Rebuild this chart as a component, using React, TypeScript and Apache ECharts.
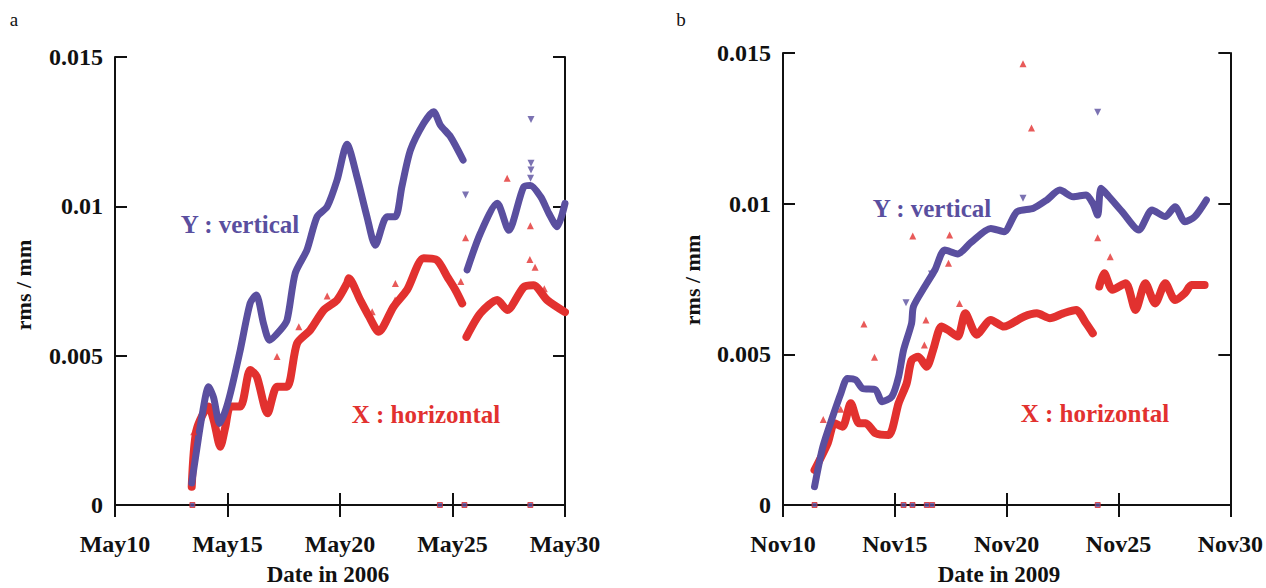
import React, { useEffect, useRef } from "react";
import * as echarts from "echarts";

// ---------- Panel a (May 2006) ----------
const aVertical1: number[][] = [
  [13.41, 0.00074], [13.62, 0.0018], [13.87, 0.003], [14.16, 0.00396], [14.38, 0.0036],
  [14.65, 0.00273], [14.88, 0.0031], [15.13, 0.00375], [15.57, 0.0052], [16.01, 0.00676],
  [16.28, 0.00703], [16.6, 0.00608], [16.87, 0.00552], [17.35, 0.00586], [17.65, 0.0062],
  [18.01, 0.00776], [18.53, 0.00854], [18.98, 0.00965], [19.43, 0.00999], [19.87, 0.01088],
  [20.31, 0.01208], [20.75, 0.011], [21.2, 0.00965], [21.57, 0.0087], [22.09, 0.00965],
  [22.46, 0.00965], [22.75, 0.01066], [23.13, 0.01188], [23.72, 0.01278], [24.16, 0.01317],
  [24.46, 0.01272], [24.91, 0.01233], [25.47, 0.01155],
];
const aVertical2: number[][] = [
  [25.65, 0.00787], [26.24, 0.0091], [26.99, 0.0101], [27.5, 0.0092], [28.17, 0.01066],
  [28.46, 0.0107], [28.92, 0.01032], [29.28, 0.00977], [29.65, 0.00932], [30.0, 0.0101],
];
const aHorizontal1: number[][] = [
  [13.41, 0.00061], [13.62, 0.0025], [14.16, 0.0033], [14.4, 0.0028], [14.68, 0.00195],
  [14.9, 0.0026], [15.13, 0.0033], [15.57, 0.0033], [16.01, 0.00452], [16.3, 0.0043],
  [16.78, 0.00307], [17.2, 0.00396], [17.65, 0.00396], [18.09, 0.00541], [18.68, 0.00586],
  [19.28, 0.00653], [19.87, 0.00686], [20.31, 0.00742], [20.39, 0.00759], [20.9, 0.00686],
  [21.3, 0.0063], [21.72, 0.0058], [22.38, 0.00664], [22.98, 0.0072], [23.72, 0.00826],
  [24.31, 0.0082], [24.77, 0.00764], [25.13, 0.0072], [25.43, 0.00675],
];
const aHorizontal2: number[][] = [
  [25.62, 0.00563], [26.24, 0.00642], [26.99, 0.00686], [27.43, 0.00653], [28.17, 0.0073],
  [28.6, 0.00736], [29.21, 0.00686], [30.0, 0.00646],
];
const aHorizontalOutliers: number[][] = [
  [27.43, 0.01094], [25.58, 0.00895], [28.46, 0.00935], [28.44, 0.00822], [28.67, 0.00796],
  [29.08, 0.00724], [22.46, 0.00742], [22.45, 0.00686], [25.37, 0.00748], [17.2, 0.00497],
  [19.43, 0.007], [18.17, 0.00597], [13.5, 0.00245], [21.43, 0.00647],
];
const aVerticalOutliers: number[][] = [
  [25.58, 0.01038], [28.49, 0.01291], [28.49, 0.01144], [28.49, 0.01122], [28.47, 0.01094],
];
const aZeroDays: number[] = [13.44, 24.44, 25.53, 28.46];

// ---------- Panel b (Nov 2009) ----------
const bVertical: number[][] = [
  [11.41, 0.00061], [11.78, 0.00193], [12.22, 0.00293], [12.59, 0.00371], [12.88, 0.0042],
  [13.25, 0.00415], [13.55, 0.00387], [14.14, 0.00382], [14.43, 0.00343], [14.87, 0.0036],
  [15.17, 0.00426], [15.39, 0.00514], [15.75, 0.00603], [15.83, 0.00658], [16.34, 0.00725],
  [16.79, 0.0078], [17.23, 0.00846], [17.81, 0.00833], [18.4, 0.00871], [19.29, 0.00918],
  [19.88, 0.00907], [20.46, 0.00973], [21.2, 0.00985], [21.79, 0.01012], [22.38, 0.01045],
  [22.97, 0.01023], [23.55, 0.01029], [23.85, 0.01001], [24.07, 0.00962], [24.22, 0.01051],
  [24.58, 0.01023], [25.17, 0.00973], [25.91, 0.00913], [26.5, 0.00979], [27.09, 0.00957],
  [27.53, 0.0099], [27.97, 0.0094], [28.41, 0.00957], [28.93, 0.01012],
];
const bHorizontal1: number[][] = [
  [11.41, 0.00116], [12.0, 0.00205], [12.3, 0.00271], [12.66, 0.0026], [13.03, 0.00338],
  [13.4, 0.00271], [13.7, 0.00271], [14.14, 0.00238], [14.72, 0.00232], [15.17, 0.00338],
  [15.53, 0.00404], [15.75, 0.00481], [16.05, 0.00492], [16.42, 0.00459], [16.71, 0.00514],
  [17.08, 0.00592], [17.37, 0.00581], [17.81, 0.00559], [18.15, 0.00636], [18.66, 0.00565],
  [19.29, 0.00614], [19.88, 0.00592], [20.76, 0.00625], [21.35, 0.00636], [21.93, 0.0062],
  [22.53, 0.00636], [23.11, 0.00647], [23.55, 0.00603], [23.85, 0.0057],
];
const bHorizontal2: number[][] = [
  [24.14, 0.00725], [24.36, 0.00769], [24.73, 0.00714], [25.32, 0.00736], [25.76, 0.00647],
  [26.2, 0.00736], [26.64, 0.00669], [27.09, 0.00736], [27.53, 0.0068], [27.97, 0.00703],
  [28.26, 0.0073], [28.85, 0.0073],
];
const bHorizontalOutliers: number[][] = [
  [20.73, 0.01464], [21.11, 0.01251], [24.07, 0.00887], [24.63, 0.00824], [13.62, 0.00601],
  [14.09, 0.0049], [15.8, 0.00893], [17.45, 0.00896], [17.4, 0.00802], [17.89, 0.00669],
  [16.39, 0.00614], [16.32, 0.00531], [11.8, 0.00284], [12.58, 0.00318],
];
const bVerticalOutliers: number[][] = [
  [24.07, 0.01303], [20.73, 0.01018], [15.5, 0.00671], [16.64, 0.00767],
];
const bZeroDays: number[] = [11.41, 15.39, 15.79, 16.43, 16.67, 24.07];

const xTicksA = ["May10", "May15", "May20", "May25", "May30"];
const xTicksB = ["Nov10", "Nov15", "Nov20", "Nov25", "Nov30"];
const yTickLabels = ["0", "0.005", "0.01", "0.015"];

const PURPLE = "#5a4f9f";
const RED = "#e2312f";
const FONT = "'Liberation Serif', 'Times New Roman', serif";

export default function App() {
  const ref = useRef<HTMLDivElement>(null);
  useEffect(() => {
    if (!ref.current) return;
    const chart = echarts.init(ref.current, null, { renderer: "svg" });

    const tickFmtX = (labels: string[]) => (v: number) => labels[Math.round((v - 10) / 5)] ?? "";
    const tickFmtY = (v: number) => yTickLabels[Math.round(v / 0.005)] ?? "";

    const labelStyle = { fontFamily: FONT, fontWeight: "bold" as const, fontSize: 24, color: "#111" };
    const lineStyle = { color: "#111", width: 2 };

    const xAxes: any[] = [];
    const yAxes: any[] = [];
    [xTicksA, xTicksB].forEach((labels, g) => {
      xAxes.push({
        type: "value", gridIndex: g, min: 10, max: 30, interval: 5, position: "bottom",
        axisLine: { show: true, lineStyle }, axisTick: { inside: true, length: 12, lineStyle },
        axisLabel: { ...labelStyle, margin: 27, formatter: tickFmtX(labels) },
        splitLine: { show: false },
      });
      xAxes.push({
        type: "value", gridIndex: g, min: 10, max: 30, interval: 5, position: "top",
        axisLine: { show: true, lineStyle }, axisTick: { inside: true, length: 12, lineStyle },
        axisLabel: { show: false }, splitLine: { show: false },
      });
      yAxes.push({
        type: "value", gridIndex: g, min: 0, max: 0.015, interval: 0.005, position: "left",
        axisLine: { show: true, lineStyle }, axisTick: { inside: true, length: 12, lineStyle },
        axisLabel: { ...labelStyle, margin: 12, formatter: tickFmtY },
        splitLine: { show: false },
      });
      yAxes.push({
        type: "value", gridIndex: g, min: 0, max: 0.015, interval: 0.005, position: "right",
        axisLine: { show: true, lineStyle }, axisTick: { inside: true, length: 12, lineStyle },
        axisLabel: { show: false }, splitLine: { show: false },
      });
    });

    const band = (g: number, data: number[][], color: string, width: number) => ({
      type: "line", xAxisIndex: g * 2, yAxisIndex: g * 2, data, showSymbol: false, symbol: "none",
      smooth: 0.25,
      lineStyle: { color, width, join: "round", cap: "round" }, z: color === PURPLE ? 3 : 2,
    });
    const pts = (g: number, data: number[][], color: string, down: boolean) => ({
      type: "scatter", xAxisIndex: g * 2, yAxisIndex: g * 2, data, symbol: "triangle",
      symbolSize: 7, symbolRotate: down ? 180 : 0, itemStyle: { color }, z: 4,
    });
    const zeros = (g: number, days: number[]) => ({
      type: "scatter", xAxisIndex: g * 2, yAxisIndex: g * 2, data: days.map((d) => [d, 0]),
      symbol: "rect", symbolSize: 5, itemStyle: { color: PURPLE, borderColor: RED, borderWidth: 1 },
      clip: false, z: 5,
    });

    const series: any[] = [
      band(0, aHorizontal1, RED, 8), band(0, aHorizontal2, RED, 8),
      band(0, aVertical1, PURPLE, 7), band(0, aVertical2, PURPLE, 7),
      pts(0, aHorizontalOutliers, RED, false), pts(0, aVerticalOutliers, PURPLE, true),
      zeros(0, aZeroDays),
      band(1, bHorizontal1, RED, 8), band(1, bHorizontal2, RED, 8),
      band(1, bVertical, PURPLE, 7),
      pts(1, bHorizontalOutliers, RED, false), pts(1, bVerticalOutliers, PURPLE, true),
      zeros(1, bZeroDays),
    ];

    const txt = (x: number, y: number, text: string, size: number, color: string, bold = true, rot = 0) => ({
      type: "text", x, y, rotation: rot,
      style: { text, fontFamily: FONT, fontWeight: bold ? "bold" : "normal", fontSize: size, fill: color, align: "center", verticalAlign: "middle" },
    });

    chart.setOption({
      animation: false,
      backgroundColor: "#fff",
      grid: [
        { left: 115, top: 57, width: 450, height: 448 },
        { left: 783, top: 53, width: 453, height: 452 },
      ],
      xAxis: xAxes,
      yAxis: yAxes,
      series,
      graphic: [
        txt(14, 19, "a", 19, "#111", false),
        txt(681, 19, "b", 19, "#111", false),
        txt(23, 285, "rms / mm", 22, "#111", true, Math.PI / 2),
        txt(692, 280, "rms / mm", 22, "#111", true, Math.PI / 2),
        txt(328, 574, "Date in 2006", 23, "#111"),
        txt(999, 574, "Date in 2009", 23, "#111"),
        txt(240, 224, "Y : vertical", 25, PURPLE),
        txt(426, 414, "X : horizontal", 25, RED),
        txt(932, 208, "Y : vertical", 25, PURPLE),
        txt(1095, 413, "X : horizontal", 25, RED),
      ],
    });
    return () => chart.dispose();
  }, []);
  return <div ref={ref} style={{ position: "fixed", left: 0, top: 0, width: 1266, height: 588, background: "#fff" }} />;
}
